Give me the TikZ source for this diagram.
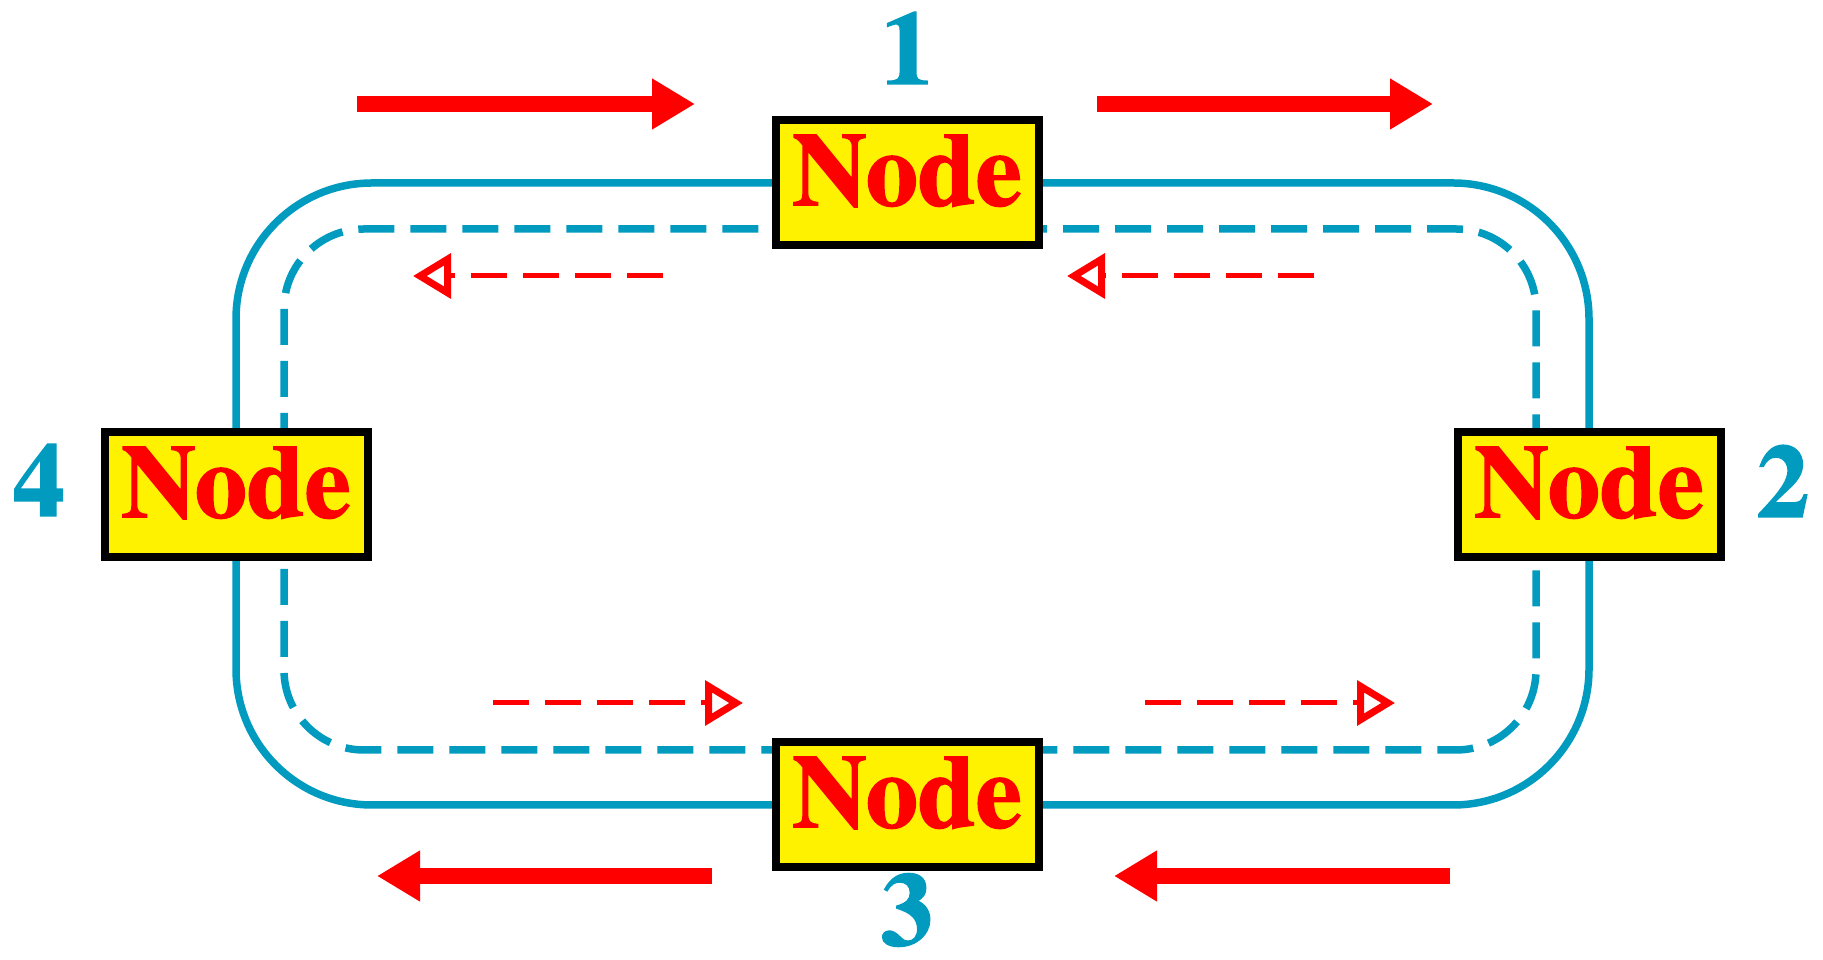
\documentclass[tikz,border=0pt]{standalone}
\usepackage{fontspec}
\setmainfont{texgyretermes}[Extension=.otf,UprightFont=*-regular,BoldFont=*-bold,BoldFeatures={FakeBold=1.5}]
\usetikzlibrary{arrows.meta,backgrounds}
\definecolor{ringblue}{RGB}{0,155,190}
\tikzstyle{nd}=[draw=black,line width=8pt,fill=yellow,text=red,font=\fontsize{104}{110}\selectfont\bfseries,minimum width=263pt,minimum height=125pt,inner sep=0pt,text depth=26pt]
\tikzstyle{num}=[text=ringblue,font=\fontsize{104}{110}\selectfont\bfseries,inner sep=0pt]
\tikzstyle{ring}=[draw=ringblue,line width=7.5pt,rounded corners=136pt]
\tikzstyle{ringdash}=[ring,rounded corners=80pt,dash pattern=on 36pt off 16pt]
\tikzstyle{flow}=[red,line width=16pt,-{Triangle[length=43pt,width=48pt]}]
\tikzstyle{back}=[red,line width=5pt,dash pattern=on 36pt off 16pt,-{Triangle[open,length=38pt,width=44pt,line width=7pt]}]

\begin{document}
\begin{tikzpicture}[x=1pt,y=1pt]
\useasboundingbox (0,0) rectangle (1823,960);
\node[nd] (n1) at (907,777) {Node};
\node[nd] (n2) at (1589,465) {Node};
\node[nd] (n3) at (907,155) {Node};
\node[nd] (n4) at (236,465) {Node};
\node[num] (l1) at (907,912) {1};
\node[num] (l2) at (1783,479) {2};
\node[num] (l3) at (907,50) {3};
\node[num] (l4) at (39,480) {4};
% ring behind the nodes
\begin{scope}[on background layer]
\draw[ring] (n1.center) -| (n2.center) |- (n3.center) -| (n4.center) |- (n1.center);
\draw[ringdash] ([yshift=-46pt]n1.center) -| ([xshift=-53pt]n2.center) |- ([yshift=55pt]n3.center) -| ([xshift=48pt]n4.center) |- ([yshift=-46pt]n1.center);
\end{scope}
% flow outside
\draw[flow] (357,856) -- (695,856);
\draw[flow] (1097,856) -- (1433,856);
\draw[flow] (712,84) -- (377,84);
\draw[flow] (1450,84) -- (1114,84);
% flow inside
\draw[back] (663,684) -- (413,684);
\draw[back] (1314,684) -- (1067,684);
\draw[back] (493,257) -- (743,257);
\draw[back] (1145,257) -- (1395,257);
\end{tikzpicture}
\end{document}
